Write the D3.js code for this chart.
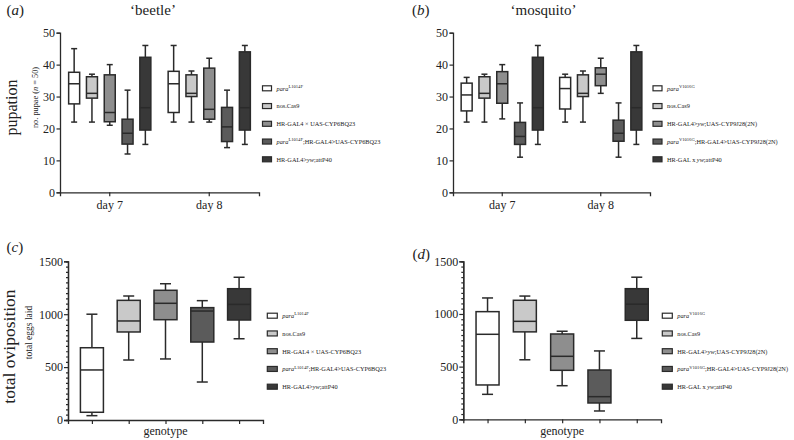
<!DOCTYPE html>
<html><head><meta charset="utf-8">
<script src="https://cdn.jsdelivr.net/npm/d3@7"></script>
<style>
body{margin:0;background:#fff;}
svg text{font-family:"Liberation Serif","Times New Roman",serif;fill:#222;}
</style></head>
<body><svg id="chart" width="794" height="440"></svg>
<script>
// ---------- data ----------
const dayLabels = ["day 7", "day 8"];
const genotypeColors = ["#ffffff", "#c9c9c9", "#8e8e8e", "#5b5b5b", "#383838"];
const pupationTicks = [0, 10, 20, 30, 40, 50];
const eggTicks = [0, 500, 1000, 1500];
// each entry: [min, q1, median, q3, max]
const beetleDay7 = [[22,27.7,34,37.6,45],[22,29.5,31,36.2,37],[21,22.1,25,36.8,40],[12,15.1,18.5,22.9,32],[15,19.5,26.5,42.3,46]];
const beetleDay8 = [[22,25,34,37.9,46],[22,30,31,36.8,38],[22,22.9,26,38.9,42],[14,15.9,20.5,26.6,32],[15,19.5,26.5,44,46]];
const mosquitoDay7 = [[22,25.5,30.5,34.2,36],[22,29.5,31,36.2,37],[23,27.9,34,37.8,40],[11,15,17.5,21.9,28],[15,19.5,26.5,42.3,46]];
const mosquitoDay8 = [[22,26.1,32.5,36,37],[22,30,31,36.8,38],[31,33.4,37,39,42],[11,16,18.5,22.6,28],[15,19.5,26.5,44,46]];
const beetleEggs = [[41,73,473,683,1000],[567,832,936,1131,1172],[577,948,1103,1226,1288],[359,737,1030,1062,1128],[768,945,1093,1241,1349]];
const mosquitoEggs = [[237,326,807,1022,1152],[565,830,930,1130,1170],[319,465,598,810,836],[79,155,215,468,649],[768,940,1093,1240,1349]];
const beetleLegend = [
  [["para","i"],["L1014F","sup"]],
  [["nos.Cas9",""]],
  [["HR-GAL4 × UAS-CYP6BQ23",""]],
  [["para","i"],["L1014F","sup"],[";HR-GAL4>UAS-CYP6BQ23",""]],
  [["HR-GAL4>",""],["yw","i"],[";attP40",""]]
];
const mosquitoLegend = [
  [["para","i"],["V1016G","sup"]],
  [["nos.Cas9",""]],
  [["HR-GAL4>",""],["yw","i"],[";UAS-CYP9J28(2N)",""]],
  [["para","i"],["V1016G","sup"],[";HR-GAL4>UAS-CYP9J28(2N)",""]],
  [["HR-GAL x ",""],["yw","i"],[";attP40",""]]
];
const genotypeIdx = [0,1,2,3,4];

// ---------- drawing ----------
const svg = d3.select("#chart");
const STROKE = "#2a2a2a";

function boxMark(g, x, w, cap, y, s, color) {
  const [mn, q1, md, q3, mx] = s;
  g.append("line").attr("x1", x).attr("x2", x).attr("y1", y(mx)).attr("y2", y(q3)).attr("stroke", STROKE).attr("stroke-width", 1.5);
  g.append("line").attr("x1", x).attr("x2", x).attr("y1", y(q1)).attr("y2", y(mn)).attr("stroke", STROKE).attr("stroke-width", 1.5);
  g.append("line").attr("x1", x - cap/2).attr("x2", x + cap/2).attr("y1", y(mx)).attr("y2", y(mx)).attr("stroke", STROKE).attr("stroke-width", 1.5);
  g.append("line").attr("x1", x - cap/2).attr("x2", x + cap/2).attr("y1", y(mn)).attr("y2", y(mn)).attr("stroke", STROKE).attr("stroke-width", 1.5);
  g.append("rect").attr("x", x - w/2).attr("y", y(q3)).attr("width", w).attr("height", y(q1) - y(q3))
    .attr("fill", color).attr("stroke", STROKE).attr("stroke-width", 1.5);
  g.append("line").attr("x1", x - w/2).attr("x2", x + w/2).attr("y1", y(md)).attr("y2", y(md)).attr("stroke", STROKE).attr("stroke-width", 1.5);
}

function styleAxis(ax) {
  ax.select(".domain").attr("stroke", STROKE).attr("stroke-width", 1.3);
  ax.selectAll(".tick line").attr("stroke", STROKE).attr("stroke-width", 1.2);
  ax.selectAll(".tick text").attr("font-size", 12).attr("fill", "#222")
    .attr("font-family", '"Liberation Serif", serif');
}

function legend(x, y0, items, swW) {
  const g = svg.append("g");
  items.forEach((parts, i) => {
    const yy = y0 + i * 17.75;
    g.append("rect").attr("x", x).attr("y", yy - 2.5).attr("width", swW).attr("height", 5)
      .attr("fill", genotypeColors[i]).attr("stroke", STROKE).attr("stroke-width", 1.2);
    const t = g.append("text").attr("x", x + swW + 5).attr("y", yy + 2.3).attr("font-size", 6.3);
    let raised = false;
    parts.forEach(([txt, st]) => {
      const ts = t.append("tspan").text(txt);
      if (st === "i") ts.attr("font-style", "italic");
      if (st === "sup") { ts.attr("font-size", 4.6).attr("dy", -2.6); raised = true; }
      else if (raised) { ts.attr("dy", 2.6); raised = false; }
    });
  });
}

function pupationPanel(x0, x1, d7, d8, legendX, legendItems) {
  const y = d3.scaleLinear().domain([0, 50]).range([192.3, 32.7]);
  const x = d3.scaleBand().domain(dayLabels).range([x0, x1]);
  const g = svg.append("g");
  const ya = g.append("g").attr("transform", `translate(${x0},0)`)
    .call(d3.axisLeft(y).tickValues(pupationTicks).tickSize(3.5).tickPadding(1.5));
  styleAxis(ya);
  const xa = g.append("g").attr("transform", `translate(0,${y(0)})`)
    .call(d3.axisBottom(x).tickSize(4).tickPadding(4));
  styleAxis(xa);
  [d7, d8].forEach((stats, di) => {
    const cx = x(dayLabels[di]) + x.bandwidth() / 2;
    stats.forEach((s, i) => boxMark(g, cx + (i - 2) * 17.8, 11, 6, y, s, genotypeColors[i]));
  });
  legend(legendX, 88.3, legendItems, 9);
}

function eggPanel(x0, x1, yBase, stats, legendX, legendItems) {
  const y = d3.scaleLinear().domain([0, 1500]).range([yBase, 261.3]);
  const x = d3.scalePoint().domain(genotypeIdx).range([x0, x1]).padding(0.65);
  const g = svg.append("g");
  const minor = d3.range(0, 1501, 50).filter(v => v % 500 !== 0);
  const ym = g.append("g").attr("transform", `translate(${x0},0)`)
    .call(d3.axisLeft(y).tickValues(minor).tickSize(2).tickFormat(""));
  styleAxis(ym);
  const ya = g.append("g").attr("transform", `translate(${x0},0)`)
    .call(d3.axisLeft(y).tickValues(eggTicks).tickSize(4).tickPadding(1).tickFormat(d3.format("d")));
  styleAxis(ya);
  const xa = g.append("g").attr("transform", `translate(0,${yBase})`)
    .call(d3.axisBottom(x).tickSize(4).tickFormat(""));
  styleAxis(xa);
  stats.forEach((s, i) => boxMark(g, x(i), 23, 11, y, s, genotypeColors[i]));
  g.append("text").attr("x", (x(0) + x(4)) / 2).attr("y", 434.5).attr("text-anchor", "middle")
    .attr("font-size", 12).text("genotype");
  legend(legendX, 315.7, legendItems, 10);
}

pupationPanel(60, 259, beetleDay7, beetleDay8, 262.5, beetleLegend);
pupationPanel(453, 650, mosquitoDay7, mosquitoDay8, 653, mosquitoLegend);
eggPanel(68, 263, 420, beetleEggs, 267.3, beetleLegend);
eggPanel(463.3, 661, 419.3, mosquitoEggs, 662.3, mosquitoLegend);

// titles & panel letters
function label(x, y, parts, size, anchor) {
  const t = svg.append("text").attr("x", x).attr("y", y).attr("font-size", size).attr("text-anchor", anchor || "start");
  parts.forEach(([txt, st]) => { const ts = t.append("tspan").text(txt); if (st === "i") ts.attr("font-style", "italic"); });
  return t;
}
label(6.5, 14.5, [["(",""],["a","i"],[")",""]], 15);
label(153, 14.5, [["‘beetle’",""]], 15, "middle");
label(412, 14.5, [["(",""],["b","i"],[")",""]], 15);
label(543.5, 14.5, [["‘mosquito’",""]], 15, "middle");
label(6.5, 251.5, [["(",""],["c","i"],[")",""]], 15);
label(412.5, 258.5, [["(",""],["d","i"],[")",""]], 15);

// y-axis titles
label(0, 0, [["pupation",""]], 16, "middle").attr("transform", "translate(16.5,107.5) rotate(-90)");
label(0, 0, [["no. pupae (",""],["n","i"],[" = 50)",""]], 8.3, "middle").attr("transform", "translate(37.5,97.5) rotate(-90)");
label(0, 0, [["total oviposition",""]], 17.5, "middle").attr("transform", "translate(15,346.5) rotate(-90)");
label(0, 0, [["total eggs laid",""]], 9.5, "middle").attr("transform", "translate(31.5,332.5) rotate(-90)");
</script></body></html>
